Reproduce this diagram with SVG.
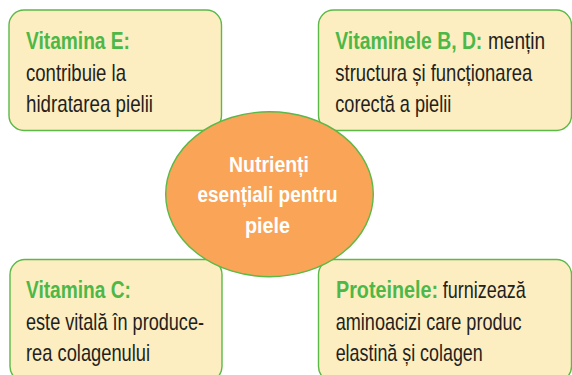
<svg xmlns="http://www.w3.org/2000/svg" width="572" height="375" viewBox="0 0 572 375">
<style>
.box{fill:#FDEEC1;stroke:#5CB947;stroke-width:1.4}
.t{font-family:"Liberation Sans",Arial,sans-serif;font-size:23px;fill:#231F20}
.h{font-weight:bold;fill:#4DB848}
.c{font-family:"Liberation Sans",Arial,sans-serif;font-size:22.5px;font-weight:bold;fill:#FFFFFF}
</style>
<rect width="572" height="375" fill="#FFFFFF"/>
<g id="connectors"></g>
<g id="node-vitE">
<rect class="box" x="9" y="10" width="212.5" height="120.5" rx="15"/>
<g transform="translate(26,0) scale(0.79,1)">
<text class="t h" x="0" y="49" textLength="131.6" lengthAdjust="spacingAndGlyphs">Vitamina E:</text>
<text class="t" x="0" y="81" textLength="126.6" lengthAdjust="spacingAndGlyphs">contribuie la</text>
<text class="t" x="0" y="112" textLength="160.8" lengthAdjust="spacingAndGlyphs">hidratarea pielii</text>
</g>
</g>
<g id="node-vitBD">
<rect class="box" x="318.5" y="10" width="253" height="120.5" rx="15"/>
<g transform="translate(335.3,0) scale(0.79,1)">
<text class="t h" x="0" y="49" textLength="186.1" lengthAdjust="spacingAndGlyphs">Vitaminele B, D:</text>
<text class="t" x="193.3" y="49" textLength="72.2" lengthAdjust="spacingAndGlyphs">mențin</text>
<text class="t" x="0" y="81" textLength="249.4" lengthAdjust="spacingAndGlyphs">structura și funcționarea</text>
<text class="t" x="0" y="112" textLength="146.8" lengthAdjust="spacingAndGlyphs">corectă a pielii</text>
</g>
</g>
<g id="node-vitC">
<rect class="box" x="10" y="259.5" width="212" height="122" rx="15"/>
<g transform="translate(26,0) scale(0.79,1)">
<text class="t h" x="0" y="298" textLength="132.9" lengthAdjust="spacingAndGlyphs">Vitamina C:</text>
<text class="t" x="0" y="330" textLength="225.3" lengthAdjust="spacingAndGlyphs">este vitală în produce-</text>
<text class="t" x="0" y="361" textLength="157" lengthAdjust="spacingAndGlyphs">rea colagenului</text>
</g>
</g>
<g id="node-prot">
<rect class="box" x="318.5" y="259.5" width="253" height="122" rx="15"/>
<g transform="translate(336,0) scale(0.79,1)">
<text class="t h" x="0" y="298" textLength="129.1" lengthAdjust="spacingAndGlyphs">Proteinele:</text>
<text class="t" x="135.1" y="298" textLength="105.1" lengthAdjust="spacingAndGlyphs">furnizează</text>
<text class="t" x="-0.4" y="330" textLength="235.4" lengthAdjust="spacingAndGlyphs">aminoacizi care produc</text>
<text class="t" x="-0.4" y="361" textLength="186.1" lengthAdjust="spacingAndGlyphs">elastină și colagen</text>
</g>
</g>
<g id="node-center">
<ellipse cx="269.5" cy="194.2" rx="103.8" ry="82.5" fill="#F9A457" stroke="#5CB947" stroke-width="1.4"/>
<g transform="scale(0.86,1)">
<text class="c" x="266.3" y="172" textLength="93" lengthAdjust="spacingAndGlyphs">Nutrienți</text>
<text class="c" x="229.7" y="202.5" textLength="162.8" lengthAdjust="spacingAndGlyphs">esențiali pentru</text>
<text class="c" x="284.9" y="233" textLength="52.3" lengthAdjust="spacingAndGlyphs">piele</text>
</g>
</g>
</svg>
